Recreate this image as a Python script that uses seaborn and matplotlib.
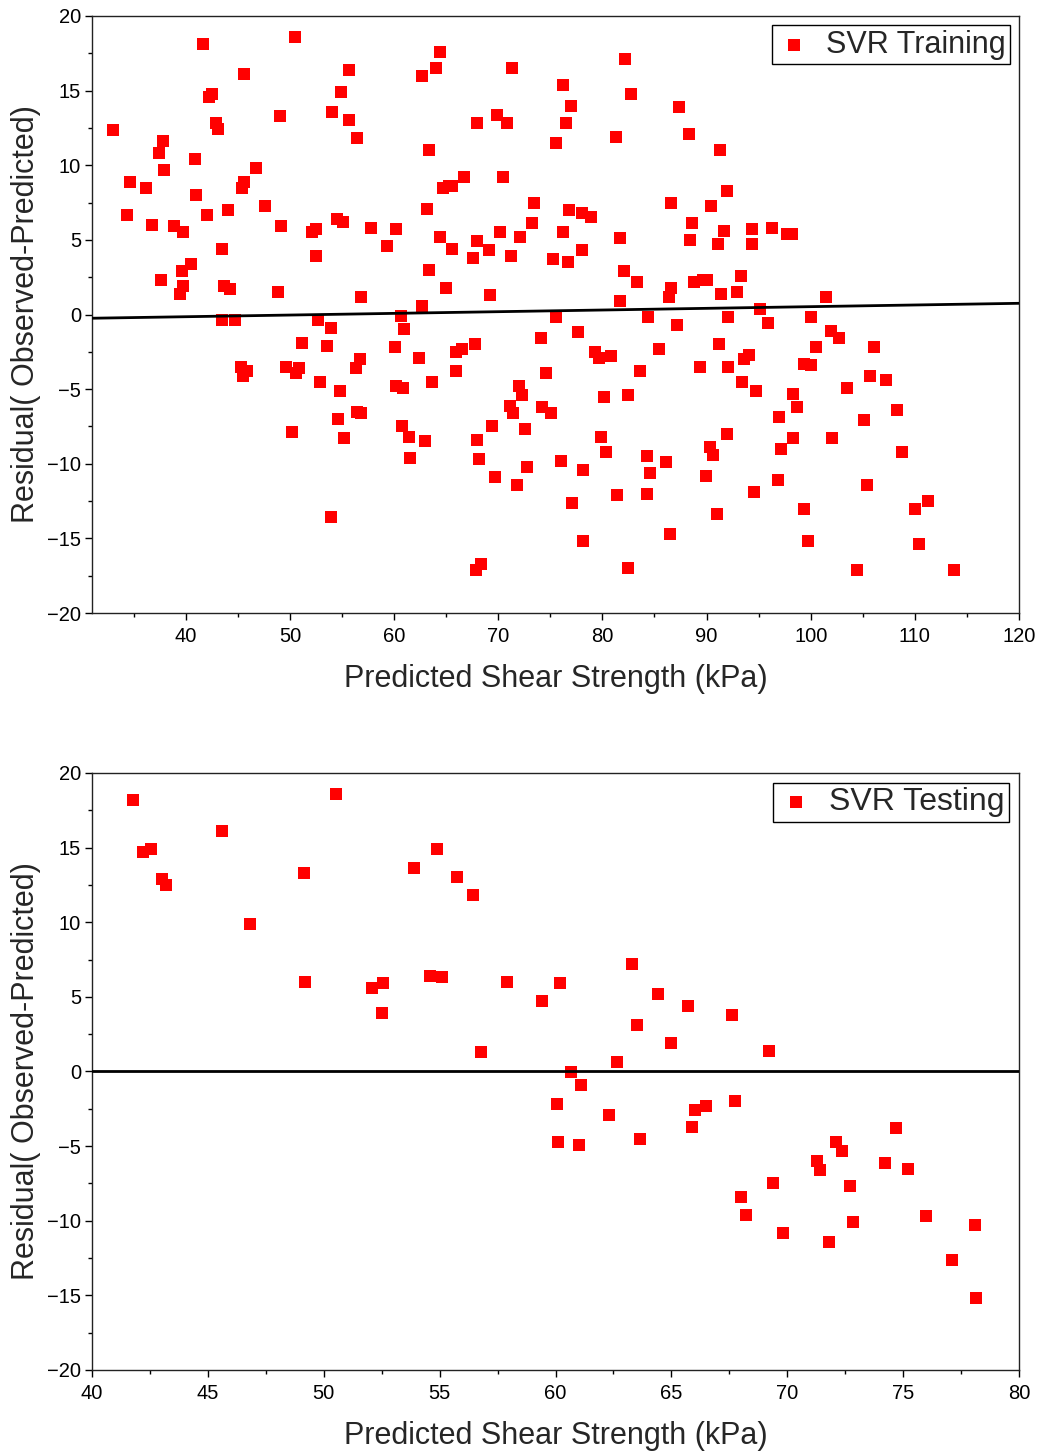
import matplotlib
matplotlib.use("Agg")
import matplotlib.pyplot as plt
from matplotlib.ticker import MultipleLocator
import seaborn as sns
import pandas as pd

# -----------------------------
# Data
# -----------------------------
train_pred = [
    33.0, 34.4, 34.6, 36.2, 36.8, 37.4, 37.8, 37.9, 37.6, 38.9,
    39.4, 39.6, 39.7, 39.7, 40.5, 40.9, 41.0, 41.7, 42.0, 42.2,
    42.5, 42.9, 43.1, 43.5, 43.5, 43.7, 44.1, 44.2, 44.7, 45.3,
    45.5, 45.9, 45.4, 45.6, 45.6, 46.7, 47.6, 49.0, 49.1, 48.9,
    49.6, 50.2, 50.5, 50.6, 50.9, 51.2, 52.1, 52.5, 52.5, 52.7,
    52.9, 53.6, 54.0, 53.9, 53.9, 54.5, 54.6, 54.8, 54.9, 55.1,
    55.2, 55.7, 55.7, 56.4, 56.3, 56.4, 56.7, 56.8, 56.8, 57.8,
    59.3, 60.1, 60.2, 60.2, 60.7, 60.8, 60.9, 61.0, 61.4, 61.5,
    62.4, 62.7, 62.7, 63.0, 63.2, 63.4, 63.4, 63.6, 64.0, 64.4,
    64.4, 64.7, 65.0, 65.3, 65.6, 65.6, 65.9, 65.9, 66.5, 66.7,
    67.6, 67.8, 68.0, 68.0, 68.0, 67.9, 68.3, 68.2, 69.1, 69.2,
    69.4, 69.7, 69.9, 70.2, 70.5, 70.8, 71.1, 71.2, 71.3, 71.4,
    71.8, 72.0, 72.1, 72.3, 72.6, 72.8, 73.2, 73.4, 74.1, 74.2,
    74.6, 75.1, 75.3, 75.5, 75.5, 76.0, 76.2, 76.2, 76.5, 76.8,
    76.7, 77.0, 77.1, 77.7, 78.0, 78.0, 78.1, 78.1, 78.9, 79.3,
    79.7, 79.9, 80.2, 80.3, 80.8, 81.3, 81.4, 81.7, 81.7, 82.1,
    82.2, 82.5, 82.5, 82.7, 83.3, 83.6, 84.3, 84.3, 84.4, 84.6,
    85.4, 86.1, 86.4, 86.6, 86.6, 86.5, 87.2, 87.4, 88.3, 88.4,
    88.6, 88.8, 89.4, 89.7, 90.0, 89.9, 90.3, 90.4, 90.6, 91.0,
    91.1, 91.2, 91.3, 91.4, 91.7, 92.0, 92.0, 92.1, 92.1, 92.9,
    93.3, 93.4, 93.6, 94.1, 94.4, 94.4, 94.6, 94.7, 95.1, 95.9,
    96.3, 96.9, 97.0, 97.1, 97.7, 98.2, 98.3, 98.3, 98.7, 99.4,
    99.4, 99.7, 100.0, 100.0, 100.5, 101.5, 101.9, 102.0, 102.7, 103.5,
    104.4, 105.1, 105.4, 105.7, 106.1, 107.2, 108.3, 108.8, 110.0, 110.4,
    111.3, 113.8,
]
train_resid = [
    12.35, 6.67, 8.88, 8.48, 6.0, 10.8, 11.6, 9.7, 2.3, 5.9,
    1.4, 2.9, 1.9, 5.5, 3.4, 10.4, 8.0, 18.1, 6.7, 14.6,
    14.8, 12.8, 12.4, 4.4, -0.4, 1.9, 7.0, 1.7, -0.4, -3.5,
    -4.1, -3.8, 8.5, 8.9, 16.1, 9.8, 7.3, 13.3, 5.9, 1.5,
    -3.5, -7.9, 18.6, -3.9, -3.6, -1.9, 5.5, 5.7, 3.9, -0.4,
    -4.5, -2.1, 13.6, -0.9, -13.6, 6.4, -7.0, -5.1, 14.9, 6.2,
    -8.3, 13.0, 16.4, 11.8, -3.6, -6.5, -3.0, -6.6, 1.2, 5.8,
    4.6, -2.2, 5.7, -4.8, -0.1, -7.5, -4.9, -1.0, -8.2, -9.6,
    -2.9, 0.6, 16.0, -8.5, 7.1, 11.0, 3.0, -4.5, 16.5, 17.6,
    5.2, 8.5, 1.8, 8.6, 8.6, 4.4, -3.8, -2.5, -2.3, 9.2,
    3.8, -2.0, 12.8, 4.9, -8.4, -17.1, -16.7, -9.7, 4.3, 1.3,
    -7.5, -10.9, 13.4, 5.5, 9.2, 12.8, -6.1, 3.9, 16.5, -6.6,
    -11.4, -4.8, 5.2, -5.4, -7.7, -10.2, 6.1, 7.5, -1.6, -6.2,
    -3.9, -6.6, 3.7, 11.5, -0.2, -9.8, 15.4, 5.5, 12.8, 7.0,
    3.5, 14.0, -12.6, -1.2, 6.8, 4.3, -10.4, -15.2, 6.5, -2.5,
    -2.9, -8.2, -5.5, -9.2, -2.8, 11.9, -12.1, 5.1, 0.9, 2.9,
    17.1, -17.0, -5.4, 14.8, 2.2, -3.8, -9.5, -12.0, -0.2, -10.6,
    -2.3, -9.9, 1.2, 7.5, 1.8, -14.7, -0.7, 13.9, 12.1, 5.0,
    6.1, 2.2, -3.5, 2.3, 2.3, -10.8, -8.9, 7.3, -9.4, -13.4,
    4.7, -2.0, 11.0, 1.4, 5.6, 8.3, -8.0, -0.2, -3.5, 1.5,
    2.6, -4.5, -3.0, -2.7, 4.7, 5.7, -11.9, -5.1, 0.4, -0.6,
    5.8, -11.1, -6.9, -9.0, 5.4, 5.4, -8.3, -5.3, -6.2, -3.3,
    -13.0, -15.2, -0.2, -3.4, -2.2, 1.2, -1.1, -8.3, -1.6, -4.9,
    -17.1, -7.1, -11.4, -4.1, -2.2, -4.4, -6.4, -9.2, -13.0, -15.4,
    -12.5, -17.1,
]
# trend line of the training residuals (end points)
train_fit_x = [31, 120]
train_fit_y = [-0.25, 0.75]

test_pred = [
    41.77, 50.53, 45.6, 42.2, 42.55, 43.0, 43.2, 49.15, 54.9, 53.9,
    55.75, 56.45, 46.8, 49.2, 52.1, 52.55, 52.5, 54.6, 55.1, 57.9,
    59.4, 60.2, 56.8, 60.65, 63.3, 64.4, 65.7, 67.6, 63.5, 65.0,
    69.2, 62.65, 61.1, 60.07, 60.1, 61.0, 62.3, 63.65, 66.0, 66.5,
    65.9, 67.75, 68.0, 68.2, 69.4, 69.8, 71.3, 71.4, 72.1, 72.35,
    72.7, 72.85, 71.8, 74.7, 74.2, 75.2, 76.0, 77.1, 78.1, 78.15,
]
test_resid = [
    18.16, 18.6, 16.1, 14.7, 14.9, 12.9, 12.5, 13.3, 14.9, 13.6,
    13.05, 11.85, 9.85, 5.96, 5.56, 5.9, 3.9, 6.4, 6.3, 5.96,
    4.7, 5.9, 1.3, -0.05, 7.2, 5.2, 4.4, 3.8, 3.1, 1.9,
    1.4, 0.6, -0.9, -2.15, -4.75, -4.9, -2.9, -4.5, -2.55, -2.3,
    -3.75, -1.95, -8.4, -9.6, -7.5, -10.85, -6.0, -6.6, -4.75, -5.3,
    -7.7, -10.1, -11.45, -3.8, -6.15, -6.55, -9.7, -12.6, -10.3, -15.2,
]
test_zero_x = [40, 80]
test_zero_y = [0, 0]

# -----------------------------
# Style
# -----------------------------
sns.set_theme(style="ticks")
plt.rcParams["font.family"] = ["Liberation Sans", "DejaVu Sans"]
plt.rcParams["axes.linewidth"] = 1.0
plt.rcParams["axes.edgecolor"] = "#222222"
plt.rcParams["xtick.direction"] = "out"
plt.rcParams["ytick.direction"] = "out"


def style_axis(ax, xlim, xmajor, xminor):
    ax.set_xlim(*xlim)
    ax.set_ylim(-20, 20)
    ax.xaxis.set_major_locator(MultipleLocator(xmajor))
    ax.xaxis.set_minor_locator(MultipleLocator(xminor))
    ax.yaxis.set_major_locator(MultipleLocator(5))
    ax.yaxis.set_minor_locator(MultipleLocator(2.5))
    ax.tick_params(which="major", length=5, width=1.0, labelsize=14.5,
                   colors="black")
    ax.tick_params(axis="x", which="major", pad=5)
    ax.tick_params(axis="y", which="major", pad=3)
    ax.tick_params(which="minor", length=3, width=1.0, colors="black")
    for side in ["top", "right", "left", "bottom"]:
        ax.spines[side].set_visible(True)
    ax.set_xlabel("Predicted Shear Strength (kPa)", fontsize=22, labelpad=13)
    ax.set_ylabel("Residual( Observed-Predicted)", fontsize=22, labelpad=4)


def add_legend(ax, size):
    leg = ax.legend(loc="upper right", fontsize=size, frameon=True,
                    fancybox=False, edgecolor="black", framealpha=1,
                    borderpad=0.15, handlelength=1.1, handletextpad=0.5,
                    borderaxespad=0.3, markerscale=1.0)
    leg.get_frame().set_linewidth(1.0)


fig = plt.figure(figsize=(10.41, 14.54), dpi=100)
ax1 = fig.add_axes([0.0884, 0.5784, 0.8905, 0.4106])
ax2 = fig.add_axes([0.0884, 0.0578, 0.8905, 0.4106])

# -----------------------------
# Training panel
# -----------------------------
train_df = pd.DataFrame({"pred": train_pred, "resid": train_resid})
sns.scatterplot(data=train_df, x="pred", y="resid", ax=ax1, marker="s",
                color="#ff0000", s=85, linewidth=0, label="SVR Training",
                zorder=3)
sns.lineplot(x=train_fit_x, y=train_fit_y, ax=ax1, color="black",
             linewidth=2.0, zorder=4)
style_axis(ax1, (31, 120), 10, 5)
add_legend(ax1, 22)

# -----------------------------
# Testing panel
# -----------------------------
test_df = pd.DataFrame({"pred": test_pred, "resid": test_resid})
sns.scatterplot(data=test_df, x="pred", y="resid", ax=ax2, marker="s",
                color="#ff0000", s=85, linewidth=0, label="SVR Testing",
                zorder=3)
sns.lineplot(x=test_zero_x, y=test_zero_y, ax=ax2, color="black",
             linewidth=2.0, zorder=4)
style_axis(ax2, (40, 80), 5, 2.5)
add_legend(ax2, 23)

fig.savefig("out.png", dpi=100)
